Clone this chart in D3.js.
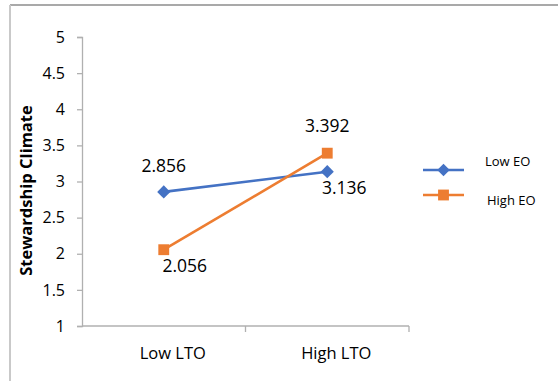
<!DOCTYPE html>
<html>
<head>
<meta charset="utf-8">
<script src="https://cdn.jsdelivr.net/npm/d3@7"></script>
<style>
  html, body { margin: 0; padding: 0; background: #fff; }
  svg { display: block; font-family: "Open Sans", "Liberation Sans", sans-serif; }
</style>
</head>
<body>
<svg id="chart" width="558" height="381"></svg>
<script>
// Interaction plot: Stewardship Climate by LTO level, one line per EO group
const categories = ["Low LTO", "High LTO"];
const seriesNames = ["Low EO", "High EO"];
const lowEO = [2.856, 3.136];
const highEO = [2.056, 3.392];
const yTicks = [1, 1.5, 2, 2.5, 3, 3.5, 4, 4.5, 5];
const yTitle = "Stewardship Climate";

const colors = { "Low EO": "#4472C4", "High EO": "#ED7D31" };
const seriesData = [
  { name: seriesNames[0], values: lowEO, shape: "diamond" },
  { name: seriesNames[1], values: highEO, shape: "square" }
];

const svg = d3.select("#chart");

// outer frame
svg.append("line").attr("x1", 10).attr("x2", 560).attr("y1", 5).attr("y2", 5)
  .attr("stroke", "#8c8c8c").attr("stroke-width", 1.4);
svg.append("line").attr("x1", 10).attr("x2", 10).attr("y1", 5).attr("y2", 385)
  .attr("stroke", "#c9c9c9").attr("stroke-width", 2);

const plot = { left: 82, right: 409, top: 37, bottom: 326 };

const x = d3.scaleBand().domain(categories).range([plot.left, plot.right]);
const y = d3.scaleLinear().domain([1, 5]).range([plot.bottom, plot.top]);
const cx = c => x(c) + x.bandwidth() / 2;

const axisColor = "#b0b0b0";

// y axis
const yAxis = svg.append("g").attr("transform", `translate(${plot.left},0)`)
  .call(d3.axisLeft(y).tickValues(yTicks).tickSize(5).tickPadding(12).tickFormat(d3.format("")));
yAxis.select(".domain").attr("stroke", axisColor).attr("stroke-width", 1.3);
yAxis.selectAll(".tick line").attr("stroke", axisColor).attr("stroke-width", 1.3);
yAxis.selectAll(".tick text").attr("font-size", 16).attr("fill", "#000")
  .attr("font-family", "'Open Sans', sans-serif");

// x axis with boundary ticks between categories
const xAxisG = svg.append("g").attr("transform", `translate(0,${plot.bottom})`);
xAxisG.append("line").attr("x1", plot.left).attr("x2", plot.right)
  .attr("stroke", axisColor).attr("stroke-width", 1.3);
const boundaries = [x(categories[1]), plot.right];
xAxisG.selectAll("line.b").data(boundaries).enter().append("line")
  .attr("class", "b").attr("x1", d => d).attr("x2", d => d).attr("y1", 0).attr("y2", 6)
  .attr("stroke", axisColor).attr("stroke-width", 1.3);
xAxisG.selectAll("text").data(categories).enter().append("text")
  .attr("x", d => cx(d) + 9).attr("y", 29)
  .attr("text-anchor", "middle").attr("dominant-baseline", "middle")
  .attr("font-size", 16.5).attr("fill", "#000").text(d => d);

// y axis title
svg.append("text")
  .attr("transform", `translate(28,${(plot.top + plot.bottom) / 2 + 9}) rotate(-90)`)
  .attr("text-anchor", "middle").attr("dominant-baseline", "middle")
  .attr("font-size", 16.5).attr("font-weight", "bold").attr("fill", "#000")
  .text(yTitle);

// symbols
const symbolFor = (shape, size) => d3.symbol()
  .type(shape === "diamond" ? d3.symbolDiamond2 : d3.symbolSquare2)
  .size(size)();

const line = d3.line().x((d, i) => cx(categories[i])).y(d => y(d));

seriesData.forEach(s => {
  svg.append("path").datum(s.values).attr("d", line)
    .attr("fill", "none").attr("stroke", colors[s.name]).attr("stroke-width", 2.6);
  svg.selectAll(null).data(s.values).enter().append("path")
    .attr("transform", (d, i) => `translate(${cx(categories[i])},${y(d)})`)
    .attr("d", symbolFor(s.shape, s.shape === "diamond" ? 110 : 150))
    .attr("fill", colors[s.name]);
});

// data labels, placed around each point
const labelPlacement = {
  "Low EO": [[0, -25], [17, 18]],
  "High EO": [[21, 18], [0, -26]]
};
seriesData.forEach(s => {
  svg.selectAll(null).data(s.values).enter().append("text")
    .attr("x", (d, i) => cx(categories[i]) + labelPlacement[s.name][i][0])
    .attr("y", (d, i) => y(d) + labelPlacement[s.name][i][1])
    .attr("text-anchor", "middle").attr("dominant-baseline", "middle")
    .attr("font-size", 17.5).attr("fill", "#000")
    .text(d => d3.format(".3f")(d));
});

// legend
const legendRows = [
  { name: seriesNames[0], shape: "diamond", lineY: 170, textY: 163 },
  { name: seriesNames[1], shape: "square", lineY: 195, textY: 202 }
];
const lg = svg.append("g");
legendRows.forEach(r => {
  lg.append("line").attr("x1", 423).attr("x2", 464).attr("y1", r.lineY).attr("y2", r.lineY)
    .attr("stroke", colors[r.name]).attr("stroke-width", 2.6);
  lg.append("path").attr("transform", `translate(443.5,${r.lineY})`)
    .attr("d", symbolFor(r.shape, r.shape === "diamond" ? 100 : 150))
    .attr("fill", colors[r.name]);
  lg.append("text").attr("x", r.shape === "diamond" ? 485 : 487).attr("y", r.textY)
    .attr("dominant-baseline", "middle").attr("font-size", 13).attr("fill", "#000")
    .text(r.name);
});
</script>
</body>
</html>
